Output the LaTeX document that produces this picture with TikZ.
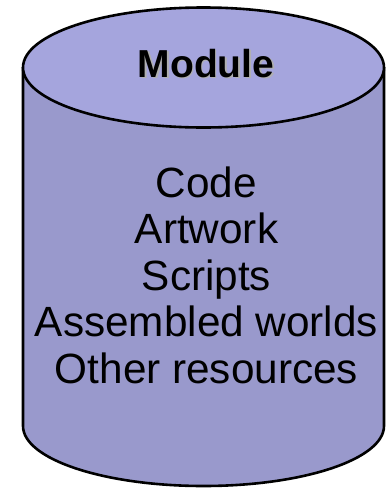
\documentclass[tikz,border=0pt]{standalone}
\usepackage{fontspec}
\setmainfont{Liberation Sans}
\definecolor{lidfill}{HTML}{A5A5DD}
\definecolor{bodyfill}{HTML}{9999CC}
\definecolor{shadowgrey}{HTML}{B0B0B0}
\begin{document}
\begin{tikzpicture}[x=1pt,y=1pt,
  outline/.style={draw=black,line width=2.6pt,line join=round},
  titletext/.style={font=\fontsize{39}{44}\selectfont\bfseries,inner sep=0pt},
  listtext/.style={font=\fontsize{42.3}{46.5}\selectfont,align=center,inner sep=0pt}]
\useasboundingbox (0,0) rectangle (390,-488);
% cylinder body
\path[outline,fill=bodyfill] (23,-67.5) -- (23,-426)
  arc[start angle=180,end angle=360,x radius=180.5,y radius=60]
  -- (384,-67.5) -- cycle;
% lid
\path[outline,fill=lidfill] (203.5,-67.5) ellipse[x radius=180.5,y radius=60];
% title with drop shadow
\node[titletext,anchor=base,text=shadowgrey] (titleshadow) at (207.5,-78.5) {Module};
\node[titletext,anchor=base] (title) at (206,-77) {Module};
% contents (base anchor sits on the last line)
\node[listtext,anchor=base] (contents) at (206.5,-383)
  {Code\\Artwork\\Scripts\\Assembled worlds\\Other resources};
\end{tikzpicture}
\end{document}
